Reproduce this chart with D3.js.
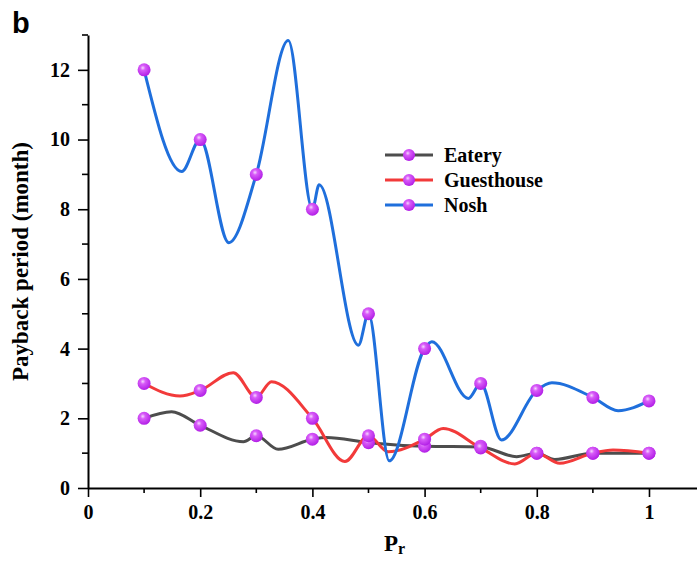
<!DOCTYPE html>
<html>
<head>
<meta charset="utf-8">
<script src="https://cdn.jsdelivr.net/npm/d3@7"></script>
<style>
  body { margin: 0; background: #fff; }
  svg { display: block; }
</style>
</head>
<body>
<svg class="chart" width="697" height="561"></svg>
<script>
// data points (markers)
var pr = [0.1, 0.2, 0.3, 0.4, 0.5, 0.6, 0.7, 0.8, 0.9, 1.0];
var eatery = [2.0, 1.8, 1.5, 1.4, 1.3, 1.2, 1.2, 1.0, 1.0, 1.0];
var guesthouse = [3.0, 2.8, 2.6, 2.0, 1.5, 1.4, 1.15, 1.0, 1.0, 1.0];
var nosh = [12, 10, 9, 8, 5, 4, 3, 2.8, 2.6, 2.5];

// smoothed line shape (points + bumps between them)
var eateryLineX = [0.1, 0.149, 0.2, 0.277, 0.3, 0.339, 0.4, 0.425, 0.5, 0.6, 0.7, 0.764, 0.8, 0.832, 0.9, 1.0];
var eateryLineY = [2.0, 2.19, 1.8, 1.33, 1.5, 1.11, 1.4, 1.45, 1.3, 1.2, 1.18, 0.9, 1.0, 0.82, 1.0, 1.0];
var guestLineX = [0.1, 0.164, 0.2, 0.259, 0.3, 0.327, 0.4, 0.458, 0.5, 0.535, 0.6, 0.633, 0.7, 0.761, 0.8, 0.841, 0.9, 0.936, 1.0];
var guestLineY = [3.0, 2.64, 2.8, 3.31, 2.6, 3.05, 2.0, 0.76, 1.5, 1.04, 1.4, 1.71, 1.15, 0.69, 1.0, 0.71, 1.0, 1.09, 1.0];
var noshLineX = [0.1, 0.167, 0.2, 0.251, 0.3, 0.357, 0.4, 0.412, 0.482, 0.5, 0.537, 0.6, 0.613, 0.678, 0.7, 0.737, 0.8, 0.827, 0.9, 0.945, 1.0];
var noshLineY = [12, 9.08, 10, 7.04, 9, 12.84, 8, 8.7, 4.1, 5, 0.78, 4, 4.2, 2.57, 3, 1.38, 2.8, 3.02, 2.6, 2.22, 2.5];

var seriesNames = ["Eatery", "Guesthouse", "Nosh"];
var seriesColors = ["#4d4d4d", "#f23a3a", "#1f6fdc"];
var xTicks = [0, 0.2, 0.4, 0.6, 0.8, 1];
var xMinor = [0.1, 0.3, 0.5, 0.7, 0.9];
var yTicks = [0, 2, 4, 6, 8, 10, 12];
var yMinor = [1, 3, 5, 7, 9, 11, 13];

var chart = d3.select(".chart");
var plotLeft = 88, plotRight = 697, plotTop = 35, plotBottom = 488;

var x = d3.scaleLinear().domain([0, 1.0856]).range([plotLeft, plotRight]);
var y = d3.scaleLinear().domain([0, 13]).range([plotBottom, plotTop]);

var serif = "'Liberation Serif', 'Times New Roman', serif";

// marker gradient
var defs = chart.append("defs");
var grad = defs.append("radialGradient").attr("id", "ball")
    .attr("cx", "40%").attr("cy", "35%").attr("r", "65%");
grad.append("stop").attr("offset", "0%").attr("stop-color", "#f6d8ff");
grad.append("stop").attr("offset", "30%").attr("stop-color", "#d85cf8");
grad.append("stop").attr("offset", "100%").attr("stop-color", "#b21fe6");

// axes
var xAxis = d3.axisBottom(x).tickValues(xTicks).tickSize(9).tickSizeOuter(0)
    .tickFormat(function(d) { return d === 0 || d === 1 ? d : d3.format(".1f")(d); });
var gx = chart.append("g").attr("transform", "translate(0," + plotBottom + ")").call(xAxis);
gx.append("g").selectAll("line").data(xMinor).enter().append("line")
    .attr("x1", function(d) { return x(d); }).attr("x2", function(d) { return x(d); })
    .attr("y1", 0).attr("y2", 5).attr("stroke", "#000").attr("stroke-width", 1.6);

var yAxis = d3.axisLeft(y).tickValues(yTicks).tickSize(10).tickSizeOuter(0);
var gy = chart.append("g").attr("transform", "translate(" + plotLeft + ",0)").call(yAxis);
gy.append("g").selectAll("line").data(yMinor).enter().append("line")
    .attr("y1", function(d) { return y(d); }).attr("y2", function(d) { return y(d); })
    .attr("x1", 0).attr("x2", -6).attr("stroke", "#000").attr("stroke-width", 1.6);

[gx, gy].forEach(function(g) {
  g.select(".domain").attr("stroke-width", 2);
  g.selectAll(".tick line").attr("stroke-width", 1.6);
  g.selectAll(".tick text").style("font-family", serif).style("font-weight", "bold")
    .style("font-size", "20px").attr("fill", "#000");
});
gx.selectAll(".tick text").attr("dy", "0.95em");
gy.selectAll(".tick text").attr("x", -18);

// axis titles
chart.append("text").attr("x", 384).attr("y", 551)
    .style("font-family", serif).style("font-weight", "bold").style("font-size", "23px")
    .text("P").append("tspan").attr("dy", 3).style("font-size", "16px").text("r");
chart.append("text").attr("transform", "translate(28," + (plotTop + plotBottom) / 2 + ") rotate(-90)")
    .attr("text-anchor", "middle")
    .style("font-family", serif).style("font-weight", "bold").style("font-size", "23px")
    .text("Payback period (month)");

// panel letter
chart.append("text").attr("x", 12).attr("y", 33)
    .style("font-family", "'Liberation Sans', Arial, sans-serif").style("font-weight", "bold")
    .style("font-size", "29px").text("b");

// lines
var lineX = [eateryLineX, guestLineX, noshLineX];
var lineY = [eateryLineY, guestLineY, noshLineY];
var points = [eatery, guesthouse, nosh];

var line = d3.line()
    .x(function(d) { return x(d[0]); })
    .y(function(d) { return y(d[1]); })
    .curve(d3.curveMonotoneX);

seriesNames.forEach(function(name, i) {
  var pts = d3.zip(lineX[i], lineY[i]);
  chart.append("path").datum(pts)
      .attr("d", line).attr("fill", "none")
      .attr("stroke", seriesColors[i]).attr("stroke-width", 3)
      .attr("stroke-linejoin", "round");
});

seriesNames.forEach(function(name, i) {
  chart.append("g").selectAll("circle").data(points[i]).enter().append("circle")
      .attr("cx", function(d, j) { return x(pr[j]); })
      .attr("cy", function(d) { return y(d); })
      .attr("r", 6.5).attr("fill", "url(#ball)");
});

// legend
var legend = chart.append("g").attr("transform", "translate(385,155)");
var item = legend.selectAll("g").data(seriesNames).enter().append("g")
    .attr("transform", function(d, i) { return "translate(0," + i * 25 + ")"; });
item.append("line").attr("x1", 0).attr("x2", 48).attr("y1", 0).attr("y2", 0)
    .attr("stroke", function(d, i) { return seriesColors[i]; }).attr("stroke-width", 3);
item.append("circle").attr("cx", 24).attr("cy", 0).attr("r", 6).attr("fill", "url(#ball)");
item.append("text").attr("x", 59).attr("y", 7)
    .style("font-family", serif).style("font-weight", "bold").style("font-size", "20px")
    .text(function(d) { return d; });
</script>
</body>
</html>
